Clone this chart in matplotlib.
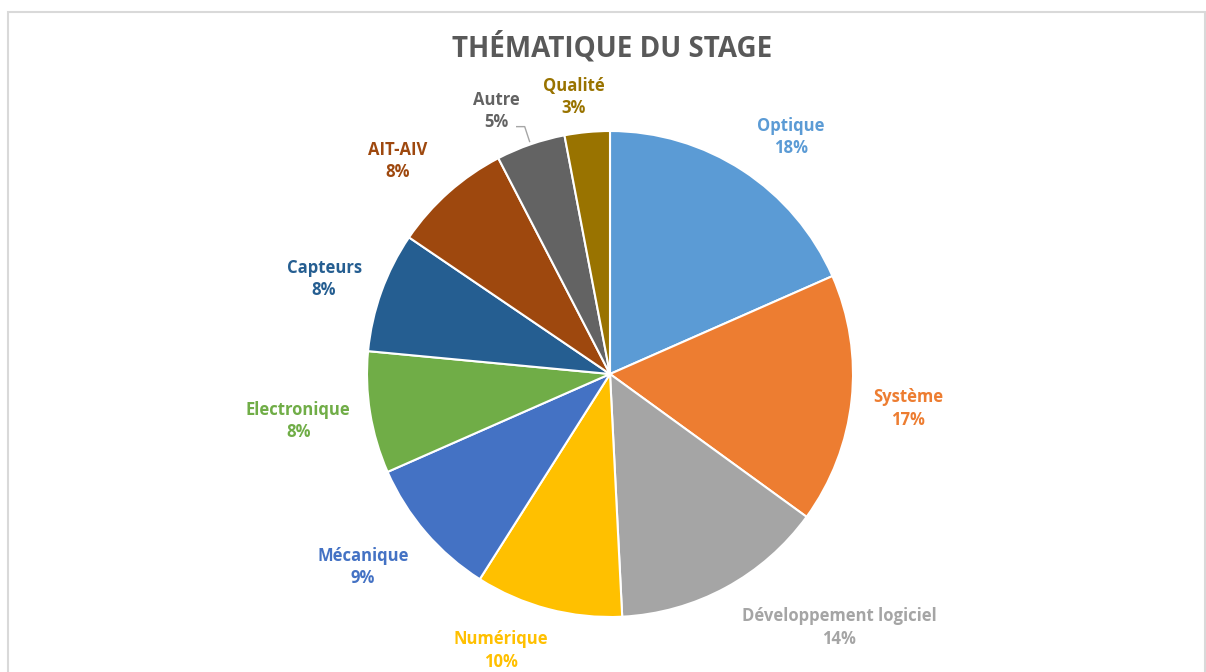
import numpy as np
import matplotlib
matplotlib.use("Agg")
import matplotlib.pyplot as plt
from matplotlib.patches import Rectangle

# ---- data ----
categories = ["Optique", "Système", "Développement logiciel", "Numérique", "Mécanique",
              "Electronique", "Capteurs", "AIT-AIV", "Autre", "Qualité"]
shares = [18.4, 16.6, 14.2, 9.8, 9.4, 8.1, 8.0, 7.9, 4.6, 3.0]
pct_labels = ["18%", "17%", "14%", "10%", "9%", "8%", "8%", "8%", "5%", "3%"]
colors = ["#5B9BD5", "#ED7D31", "#A5A5A5", "#FFC000", "#4472C4",
          "#70AD47", "#255E91", "#9E480E", "#636363", "#997300"]
title = "THÉMATIQUE DU STAGE"

# ---- layout ----
W, H = 1206, 672
cx, cy, R = 610, H - 374, 243
# label placement: radial distance (px) and angular shift (deg, clockwise) from wedge middle
label_dist = [300, 300, 340, 295, 312, 315, 302, 302, 289, 282]
label_shift = [4, 0, -14, 7, 3, 1, -1, -3, -4, -2]
label_dy = -2.5

plt.rcParams['font.family'] = ['Open Sans', 'DejaVu Sans']
fig = plt.figure(figsize=(W / 100, H / 100), dpi=100)
ax = fig.add_axes([0, 0, 1, 1])

# frame
ax.add_patch(Rectangle((8, -20), W - 9, H - 12 + 20, fill=False,
                       edgecolor="#D9D9D9", linewidth=1.5))

wedges, _ = ax.pie(shares, colors=colors, startangle=90, counterclock=False,
                   center=(cx, cy), radius=R, frame=True,
                   wedgeprops=dict(edgecolor="white", linewidth=1.5))
ax.set_xlim(0, W)
ax.set_ylim(0, H)
ax.set_aspect("equal")
ax.axis("off")

for i, w in enumerate(wedges):
    mid = (w.theta1 + w.theta2) / 2.0 - label_shift[i]
    a = np.deg2rad(mid)
    x = cx + label_dist[i] * np.cos(a)
    y = cy + label_dist[i] * np.sin(a) + label_dy
    ax.text(x, y, f"{categories[i]}\n{pct_labels[i]}", ha="center", va="center",
            color=colors[i], fontsize=12, fontweight="bold", linespacing=1.3)
    if categories[i] == "Autre":
        am = np.deg2rad((w.theta1 + w.theta2) / 2.0)
        ex, ey = cx + (R + 3) * np.cos(am), cy + (R + 3) * np.sin(am)
        ax.plot([x + 20, x + 28, ex], [y - 16, y - 16, ey], color="#A6A6A6", lw=1)

ax.text(W / 2 + 9, H - 48, title, ha="center", va="center", color="#595959",
        fontsize=20, fontweight="bold")

fig.savefig("out.png", dpi=100)
